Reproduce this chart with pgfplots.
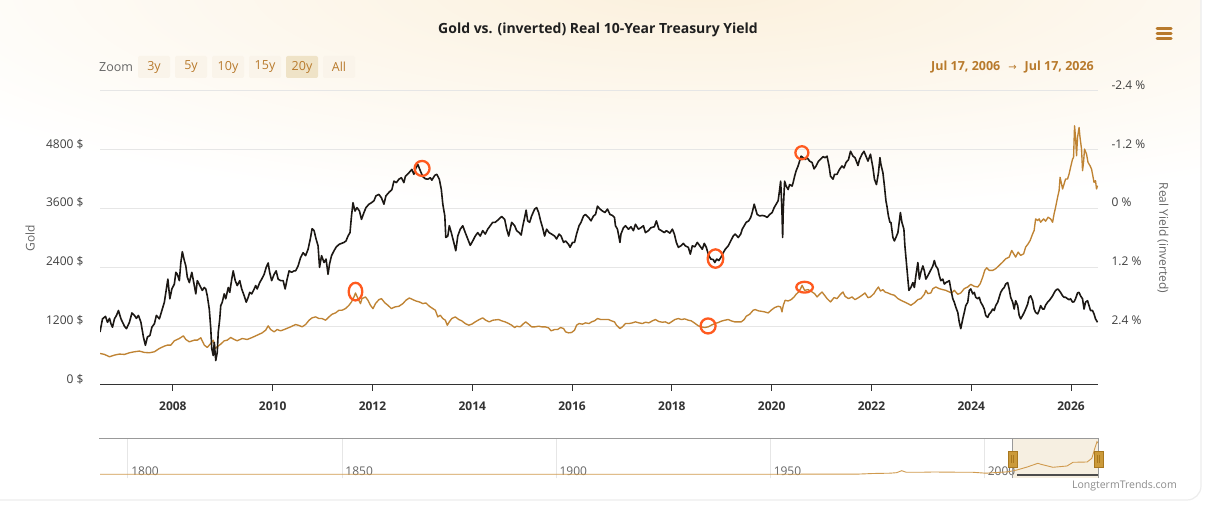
\documentclass[border=0pt]{standalone}
\usepackage{pgfplots}
\pgfplotsset{compat=1.18}
\usepackage{fontspec}
\setmainfont{Open Sans}
\newfontfamily\dejavu{DejaVu Sans}
\definecolor{goldc}{HTML}{BF8333}
\definecolor{darkc}{HTML}{1C1814}
\definecolor{btntxt}{HTML}{B87A2C}
\definecolor{btnbg}{HTML}{FAF4EA}
\definecolor{btnsel}{HTML}{EFE3C7}
\definecolor{gridc}{HTML}{E6E6E6}
\definecolor{circc}{HTML}{FF5A1F}
\definecolor{navgold}{HTML}{D09A4E}
\definecolor{selc}{HTML}{F6EFE1}
\definecolor{handlec}{HTML}{CB9A3A}
\definecolor{handleb}{HTML}{A9781F}
\definecolor{glow}{HTML}{FBF0DC}
\begin{document}
\begin{tikzpicture}[x=1pt,y=1pt]
\useasboundingbox (0,0) rectangle (1205,505);
\fill[white] (0,0) rectangle (1205,505);
\begin{scope}
\clip (0,5) rectangle (1201,505);
\shade[inner color=glow, outer color=white] (700,520) ellipse (900 and 230);
\end{scope}
\draw[black!7, line width=1.2pt, rounded corners=14pt] (-30,5) rectangle (1201,530);
% title
\node[font=\bfseries\fontsize{14}{16}\selectfont, text=black!88] at (598,475) {Gold vs. (inverted) Real 10-Year Treasury Yield};
% zoom buttons
\node[anchor=west, inner sep=0pt, text=black!60, font=\fontsize{12.5}{14}\selectfont] at (99,437.5) {Zoom};
\foreach \xa/\xb/\lab/\c in {138/170/3y/btnbg, 175/207/5y/btnbg, 212/244/10y/btnbg, 249/281/15y/btnbg, 286/318/20y/btnsel, 323/355/All/btnbg}{
  \fill[\c, rounded corners=2pt] (\xa,427) rectangle (\xb,449);
  \node[text=btntxt, font=\fontsize{12.5}{14}\selectfont] at ({(\xa+\xb)/2},438) {\lab};
}
\node[anchor=east, inner sep=0pt, text=btntxt, font=\bfseries\fontsize{12.5}{14}\selectfont] at (1094,438) {Jul 17, 2006\hspace{8pt}{\dejavu\mdseries\fontsize{10}{12}\selectfont →}\hspace{8pt}Jul 17, 2026};
\foreach \yy in {28.3,33.3,38.3}{\draw[btntxt, line width=3pt, line cap=round] (1157,505-\yy) -- (1171,505-\yy);}
% ---------------- main chart, left axis (gold)
\begin{axis}[
  at={(100pt,120pt)}, anchor=south west, scale only axis, width=998pt, height=294pt,
  xmin=2006.54, xmax=2026.54, ymin=0, ymax=6000,
  axis x line*=bottom, axis y line*=left,
  y axis line style={draw=none},
  x axis line style={draw=black!80, line width=1pt},
  xtick={2008,2010,2012,2014,2016,2018,2020,2022,2024,2026},
  xticklabels={2008,2010,2012,2014,2016,2018,2020,2022,2024,2026},
  xtick style={draw=black!80, line width=1pt},
  ytick style={draw=none},
  tick align=outside, major tick length=6pt,
  ytick={0,1200,2400,3600,4800},
  yticklabels={0 \$,1200 \$,2400 \$,3600 \$,4800 \$},
  extra y ticks={6000}, extra y tick labels={},
  extra y tick style={ymajorgrids, grid style={gridc, line width=1pt}, ytick style={draw=none}},
  ymajorgrids, grid style={gridc, line width=1pt},
  xticklabel style={font=\bfseries\fontsize{12}{14}\selectfont, text=black!80, yshift=-7pt},
  yticklabel style={font=\fontsize{12}{14}\selectfont, text=black!75, xshift=-7pt, yshift=6pt},
  ylabel={Gold}, ylabel style={at={(axis description cs:-0.07,0.5)}, anchor=center, font=\fontsize{12}{14}\selectfont, text=black!60},
]
\addplot[goldc, line width=1.35pt, line join=round] coordinates {
(2006.54,644) (2006.63,624) (2006.73,576) (2006.83,610) (2006.93,631) (2007.03,624) (2007.13,658) (2007.23,678) (2007.33,692) (2007.43,664) (2007.53,658) (2007.63,678) (2007.73,746) (2007.83,793) (2007.89,814) (2007.96,814)
(2008.03,902) (2008.13,949) (2008.21,1003) (2008.26,929) (2008.33,881) (2008.43,915) (2008.49,915) (2008.56,963) (2008.63,814) (2008.69,766) (2008.76,848) (2008.81,915) (2008.85,746) (2008.89,780) (2008.96,834)
(2009.03,902) (2009.09,915) (2009.16,970) (2009.23,929) (2009.29,902) (2009.39,949) (2009.49,929) (2009.59,970) (2009.69,1017) (2009.79,1064) (2009.86,1119) (2009.91,1207) (2009.96,1132)
(2010.03,1085) (2010.09,1132) (2010.16,1105) (2010.23,1132) (2010.33,1173) (2010.43,1220) (2010.46,1234) (2010.53,1214) (2010.59,1187) (2010.66,1234) (2010.73,1322) (2010.79,1370) (2010.86,1390) (2010.93,1356) (2010.99,1356)
(2011.06,1322) (2011.13,1390) (2011.19,1444) (2011.26,1471) (2011.33,1526) (2011.39,1526) (2011.46,1559) (2011.53,1627) (2011.58,1695) (2011.63,1797) (2011.66,1878) (2011.71,1763) (2011.76,1661) (2011.79,1763) (2011.86,1797) (2011.91,1729) (2011.96,1627)
(2012.01,1559) (2012.06,1661) (2012.13,1742) (2012.18,1763) (2012.25,1675) (2012.31,1627) (2012.38,1559) (2012.45,1593) (2012.53,1607) (2012.61,1661) (2012.67,1729) (2012.74,1776) (2012.81,1742) (2012.87,1715) (2012.94,1695)
(2013.01,1661) (2013.07,1675) (2013.14,1607) (2013.21,1559) (2013.26,1526) (2013.31,1390) (2013.36,1424) (2013.41,1356) (2013.46,1322) (2013.50,1220) (2013.54,1288) (2013.59,1356) (2013.66,1390) (2013.73,1336) (2013.79,1309) (2013.86,1254) (2013.93,1220) (2013.99,1241)
(2014.06,1288) (2014.14,1336) (2014.21,1370) (2014.27,1322) (2014.34,1288) (2014.41,1322) (2014.53,1336) (2014.59,1309) (2014.66,1288) (2014.73,1254) (2014.79,1220) (2014.85,1173) (2014.89,1200) (2014.96,1187)
(2015.03,1254) (2015.07,1288) (2015.13,1241) (2015.19,1187) (2015.26,1187) (2015.33,1200) (2015.39,1187) (2015.46,1187) (2015.53,1166) (2015.58,1105) (2015.65,1132) (2015.71,1132) (2015.77,1173) (2015.83,1153) (2015.87,1085) (2015.93,1064) (2015.99,1071)
(2016.05,1119) (2016.09,1220) (2016.14,1254) (2016.21,1241) (2016.27,1268) (2016.34,1254) (2016.39,1288) (2016.45,1309) (2016.51,1356) (2016.58,1336) (2016.66,1336) (2016.73,1336) (2016.79,1309) (2016.85,1288) (2016.89,1220) (2016.96,1153)
(2017.01,1187) (2017.07,1254) (2017.14,1254) (2017.21,1268) (2017.27,1288) (2017.34,1268) (2017.41,1254) (2017.47,1281) (2017.54,1268) (2017.61,1309) (2017.67,1336) (2017.74,1295) (2017.81,1281) (2017.87,1288) (2017.94,1254) (2017.99,1288)
(2018.06,1336) (2018.13,1356) (2018.19,1336) (2018.26,1349) (2018.33,1322) (2018.39,1309) (2018.46,1260) (2018.53,1207) (2018.59,1187) (2018.66,1173) (2018.73,1187) (2018.79,1220) (2018.86,1254) (2018.93,1275) (2018.99,1302)
(2019.06,1322) (2019.13,1336) (2019.19,1309) (2019.26,1288) (2019.33,1288) (2019.39,1288) (2019.45,1336) (2019.49,1403) (2019.56,1444) (2019.63,1526) (2019.67,1539) (2019.74,1512) (2019.79,1505) (2019.86,1492) (2019.93,1471) (2019.99,1526)
(2020.06,1580) (2020.13,1607) (2020.18,1593) (2020.207,1492) (2020.233,1627) (2020.27,1729) (2020.33,1715) (2020.39,1742) (2020.45,1797) (2020.49,1851) (2020.54,1898) (2020.58,1966) (2020.61,2034) (2020.66,1932) (2020.73,1946) (2020.79,1912) (2020.86,1865) (2020.91,1797) (2020.96,1851)
(2021.01,1898) (2021.06,1831) (2021.11,1763) (2021.18,1695) (2021.25,1783) (2021.31,1763) (2021.38,1851) (2021.43,1898) (2021.47,1810) (2021.54,1763) (2021.61,1797) (2021.67,1742) (2021.74,1783) (2021.81,1831) (2021.87,1878) (2021.93,1783) (2021.98,1797)
(2022.05,1865) (2022.09,1932) (2022.14,2000) (2022.18,1919) (2022.23,1946) (2022.27,1898) (2022.33,1878) (2022.39,1851) (2022.46,1831) (2022.53,1763) (2022.59,1729) (2022.66,1695) (2022.73,1661) (2022.79,1627) (2022.86,1675) (2022.93,1742) (2022.99,1763)
(2023.06,1851) (2023.09,1932) (2023.13,1865) (2023.19,1878) (2023.23,1966) (2023.29,2000) (2023.36,1966) (2023.43,1946) (2023.49,1932) (2023.56,1898) (2023.61,1878) (2023.66,1932) (2023.73,1851) (2023.79,1878) (2023.86,1966) (2023.93,2000) (2023.99,2054)
(2024.06,2014) (2024.13,2000) (2024.18,2068) (2024.23,2204) (2024.27,2339) (2024.31,2393) (2024.36,2339) (2024.43,2339) (2024.49,2373) (2024.56,2441) (2024.63,2509) (2024.69,2576) (2024.76,2610) (2024.81,2746) (2024.85,2678) (2024.89,2610) (2024.94,2712) (2024.99,2644)
(2025.05,2678) (2025.09,2814) (2025.14,2882) (2025.18,2949) (2025.23,3085) (2025.26,3153) (2025.29,3390) (2025.33,3356) (2025.36,3390) (2025.39,3322) (2025.45,3390) (2025.49,3343) (2025.54,3424) (2025.59,3390) (2025.63,3322) (2025.66,3492) (2025.69,3627) (2025.73,3831) (2025.76,3966) (2025.78,4238) (2025.81,4102) (2025.83,4000) (2025.86,4102) (2025.89,4204) (2025.93,4204) (2025.96,4305) (2025.99,4441)
(2026.03,4610) (2026.05,4644) (2026.07,5288) (2026.09,5051) (2026.11,4678) (2026.13,5051) (2026.16,5255) (2026.18,5051) (2026.21,4814) (2026.23,4373) (2026.25,4543) (2026.27,4814) (2026.31,4712) (2026.34,4543) (2026.38,4475) (2026.41,4407) (2026.43,4305) (2026.46,4136) (2026.49,4170) (2026.51,4000) (2026.53,4068)
};
% annotation circles on the gold line
\addplot[only marks, mark=o, mark size=6.8pt, mark options={draw=circc, line width=2.3pt, yscale=1.3}] coordinates {(2011.66,1906)};
\addplot[only marks, mark=o, mark size=7.5pt, mark options={draw=circc, line width=2.3pt}] coordinates {(2018.726,1205)};
\addplot[only marks, mark=o, mark size=8.3pt, mark options={draw=circc, line width=2.3pt, yscale=0.65}] coordinates {(2020.66,1996)};
\end{axis}
% ---------------- main chart, right axis (real yield, inverted)
\begin{axis}[
  at={(100pt,120pt)}, anchor=south west, scale only axis, width=998pt, height=294pt,
  xmin=2006.54, xmax=2026.54, ymin=-2.4, ymax=3.6, y dir=reverse,
  axis x line=none, axis y line*=right,
  y axis line style={draw=none}, ytick style={draw=none},
  ytick={-2.4,-1.2,0,1.2,2.4},
  yticklabels={-2.4 \%,-1.2 \%,0 \%,1.2 \%,2.4 \%},
  yticklabel style={font=\fontsize{12}{14}\selectfont, text=black!75, xshift=10pt, yshift=6pt},
  ylabel={Real Yield (inverted)}, ylabel style={at={(axis description cs:1.065,0.5)}, anchor=center, rotate=180, font=\fontsize{12}{14}\selectfont, text=black!60},
]
\addplot[darkc, line width=1.6pt, line join=round] coordinates {
(2006.54,2.52) (2006.59,2.25) (2006.65,2.20) (2006.69,2.32) (2006.73,2.24) (2006.76,2.35) (2006.79,2.42) (2006.83,2.25) (2006.87,2.18) (2006.91,2.08) (2006.96,2.25)
(2007.03,2.40) (2007.07,2.45) (2007.13,2.32) (2007.18,2.13) (2007.23,2.18) (2007.27,2.24) (2007.31,2.18) (2007.36,2.32) (2007.41,2.62) (2007.45,2.79) (2007.49,2.62) (2007.54,2.59) (2007.58,2.42) (2007.63,2.35) (2007.67,2.18) (2007.73,2.25) (2007.78,2.08) (2007.83,1.91) (2007.87,1.64) (2007.90,1.44) (2007.94,1.84) (2007.98,1.64)
(2008.03,1.54) (2008.06,1.30) (2008.09,1.34) (2008.13,1.47) (2008.16,1.10) (2008.19,0.88) (2008.23,1.06) (2008.26,1.17) (2008.29,1.40) (2008.33,1.51) (2008.38,1.30) (2008.43,1.57) (2008.46,1.74) (2008.49,1.47) (2008.54,1.57) (2008.59,1.67) (2008.63,1.61) (2008.66,1.64) (2008.69,1.78) (2008.73,2.05) (2008.76,2.45) (2008.78,2.86) (2008.81,3.00) (2008.83,2.73) (2008.86,3.10) (2008.89,2.93) (2008.91,2.52) (2008.94,2.25) (2008.96,1.98) (2008.99,1.91)
(2009.03,1.74) (2009.06,1.84) (2009.11,1.61) (2009.14,1.71) (2009.18,1.44) (2009.21,1.27) (2009.25,1.47) (2009.29,1.57) (2009.34,1.47) (2009.38,1.64) (2009.43,1.78) (2009.47,1.91) (2009.51,1.81) (2009.54,1.71) (2009.58,1.74) (2009.63,1.64) (2009.66,1.57) (2009.69,1.64) (2009.74,1.51) (2009.78,1.44) (2009.83,1.34) (2009.87,1.20) (2009.91,1.11) (2009.94,1.30) (2009.98,1.47)
(2010.03,1.34) (2010.07,1.27) (2010.11,1.44) (2010.16,1.47) (2010.21,1.47) (2010.25,1.64) (2010.29,1.44) (2010.33,1.27) (2010.38,1.30) (2010.43,1.27) (2010.46,1.27) (2010.51,1.17) (2010.56,1.00) (2010.61,0.90) (2010.66,0.96) (2010.71,0.83) (2010.76,0.59) (2010.79,0.41) (2010.83,0.45) (2010.87,0.62) (2010.91,0.76) (2010.94,1.20) (2010.98,0.96)
(2011.03,1.10) (2011.07,1.03) (2011.11,1.34) (2011.14,1.13) (2011.18,0.96) (2011.23,0.86) (2011.27,0.79) (2011.33,0.73) (2011.38,0.71) (2011.43,0.69) (2011.47,0.66) (2011.51,0.56) (2011.55,0.49) (2011.58,0.15) (2011.61,-0.12) (2011.65,0.05) (2011.69,-0.02) (2011.74,0.05) (2011.78,0.22) (2011.83,0.08) (2011.87,-0.02) (2011.93,-0.09) (2011.98,-0.12)
(2012.03,-0.16) (2012.07,-0.26) (2012.13,-0.29) (2012.18,-0.22) (2012.23,-0.09) (2012.27,-0.26) (2012.33,-0.33) (2012.39,-0.39) (2012.43,-0.56) (2012.48,-0.53) (2012.53,-0.60) (2012.58,-0.63) (2012.63,-0.53) (2012.66,-0.66) (2012.73,-0.73) (2012.79,-0.80) (2012.83,-0.70) (2012.87,-0.83) (2012.91,-0.90) (2012.96,-0.77)
(2013.01,-0.65) (2013.06,-0.61) (2013.11,-0.60) (2013.16,-0.63) (2013.19,-0.58) (2013.25,-0.68) (2013.29,-0.70) (2013.34,-0.60) (2013.38,-0.39) (2013.41,-0.09) (2013.45,0.15) (2013.47,0.59) (2013.51,0.56) (2013.54,0.35) (2013.58,0.49) (2013.63,0.69) (2013.67,0.86) (2013.71,0.56) (2013.76,0.42) (2013.81,0.35) (2013.86,0.49) (2013.91,0.62) (2013.96,0.75)
(2014.01,0.66) (2014.06,0.56) (2014.11,0.49) (2014.16,0.56) (2014.21,0.45) (2014.26,0.52) (2014.31,0.42) (2014.36,0.35) (2014.41,0.28) (2014.46,0.28) (2014.53,0.22) (2014.59,0.16) (2014.65,0.22) (2014.69,0.42) (2014.73,0.56) (2014.76,0.42) (2014.79,0.28) (2014.85,0.35) (2014.89,0.45) (2014.94,0.49) (2014.98,0.54)
(2015.01,0.37) (2015.05,0.18) (2015.08,0.03) (2015.11,0.25) (2015.15,0.28) (2015.19,0.15) (2015.25,0.01) (2015.29,-0.02) (2015.33,0.08) (2015.37,0.25) (2015.41,0.39) (2015.45,0.56) (2015.49,0.42) (2015.54,0.49) (2015.59,0.52) (2015.65,0.56) (2015.69,0.62) (2015.74,0.52) (2015.78,0.56) (2015.83,0.69) (2015.87,0.66) (2015.93,0.73) (2015.96,0.79)
(2016.01,0.69) (2016.05,0.69) (2016.09,0.52) (2016.14,0.35) (2016.18,0.28) (2016.23,0.15) (2016.27,0.12) (2016.33,0.18) (2016.38,0.25) (2016.43,0.15) (2016.47,0.12) (2016.51,-0.05) (2016.56,0.01) (2016.61,0.05) (2016.66,0.08) (2016.71,0.01) (2016.76,0.12) (2016.81,0.14) (2016.85,0.18) (2016.87,0.35) (2016.91,0.42) (2016.96,0.69) (2016.98,0.52)
(2017.03,0.39) (2017.07,0.35) (2017.13,0.42) (2017.18,0.37) (2017.23,0.45) (2017.27,0.32) (2017.33,0.42) (2017.38,0.39) (2017.43,0.35) (2017.47,0.49) (2017.53,0.45) (2017.58,0.39) (2017.65,0.37) (2017.69,0.25) (2017.74,0.42) (2017.79,0.45) (2017.85,0.49) (2017.89,0.45) (2017.96,0.50)
(2018.01,0.42) (2018.05,0.52) (2018.09,0.69) (2018.13,0.79) (2018.18,0.76) (2018.23,0.71) (2018.27,0.76) (2018.33,0.79) (2018.37,0.93) (2018.41,0.76) (2018.46,0.78) (2018.51,0.69) (2018.56,0.76) (2018.61,0.83) (2018.65,0.71) (2018.69,0.79) (2018.73,0.93) (2018.78,1.03) (2018.83,1.04) (2018.86,1.10) (2018.90,1.03) (2018.94,1.06) (2018.98,1.00)
(2019.03,0.90) (2019.07,0.83) (2019.13,0.76) (2019.18,0.66) (2019.23,0.56) (2019.27,0.52) (2019.33,0.59) (2019.38,0.52) (2019.41,0.42) (2019.45,0.35) (2019.49,0.28) (2019.54,0.25) (2019.58,0.18) (2019.61,0.08) (2019.65,-0.09) (2019.67,-0.02) (2019.71,0.12) (2019.76,0.15) (2019.81,0.14) (2019.86,0.15) (2019.91,0.18) (2019.96,0.12)
(2020.01,0.08) (2020.05,-0.02) (2020.09,-0.09) (2020.13,-0.16) (2020.16,-0.39) (2020.18,-0.56) (2020.19,-0.36) (2020.207,0.08) (2020.22,0.59) (2020.233,0.01) (2020.26,-0.56) (2020.29,-0.46) (2020.33,-0.39) (2020.36,-0.49) (2020.41,-0.46) (2020.43,-0.53) (2020.46,-0.66) (2020.49,-0.77) (2020.53,-0.87) (2020.56,-0.97) (2020.59,-1.07) (2020.63,-1.04) (2020.67,-1.00) (2020.71,-1.04) (2020.76,-0.97) (2020.81,-0.94) (2020.85,-0.81) (2020.89,-0.87) (2020.94,-0.97) (2020.99,-1.02)
(2021.03,-1.06) (2021.07,-1.04) (2021.11,-1.07) (2021.15,-0.87) (2021.18,-0.66) (2021.23,-0.60) (2021.26,-0.70) (2021.31,-0.70) (2021.36,-0.80) (2021.41,-0.87) (2021.45,-0.83) (2021.49,-0.94) (2021.54,-1.00) (2021.58,-1.17) (2021.63,-1.07) (2021.67,-1.04) (2021.73,-0.88) (2021.76,-1.00) (2021.81,-1.11) (2021.85,-1.17) (2021.89,-1.07) (2021.93,-0.97) (2021.98,-1.11)
(2022.03,-0.83) (2022.06,-0.60) (2022.10,-0.49) (2022.14,-0.73) (2022.17,-1.04) (2022.19,-0.90) (2022.23,-0.73) (2022.26,-0.46) (2022.29,-0.16) (2022.31,-0.05) (2022.34,0.15) (2022.37,0.28) (2022.39,0.28) (2022.43,0.59) (2022.46,0.66) (2022.49,0.59) (2022.53,0.49) (2022.56,0.25) (2022.58,0.08) (2022.61,0.28) (2022.65,0.42) (2022.67,0.76) (2022.70,1.10) (2022.73,1.44) (2022.75,1.67) (2022.79,1.61) (2022.83,1.51) (2022.86,1.61) (2022.89,1.37) (2022.93,1.10) (2022.96,1.44) (2022.99,1.30)
(2023.03,1.17) (2023.06,1.27) (2023.09,1.44) (2023.13,1.37) (2023.18,1.27) (2023.23,1.17) (2023.26,1.06) (2023.29,1.17) (2023.33,1.23) (2023.36,1.37) (2023.39,1.47) (2023.43,1.44) (2023.46,1.54) (2023.49,1.51) (2023.53,1.49) (2023.56,1.47) (2023.59,1.64) (2023.63,1.84) (2023.66,1.91) (2023.69,2.01) (2023.73,2.12) (2023.76,2.32) (2023.79,2.45) (2023.83,2.25) (2023.86,2.12) (2023.89,1.98) (2023.93,1.91) (2023.96,1.67) (2023.99,1.64)
(2024.03,1.74) (2024.06,1.71) (2024.09,1.81) (2024.13,1.84) (2024.16,1.81) (2024.19,1.91) (2024.23,1.98) (2024.26,2.05) (2024.29,2.18) (2024.33,2.22) (2024.36,2.15) (2024.39,2.12) (2024.43,2.05) (2024.46,2.08) (2024.49,1.98) (2024.53,1.91) (2024.56,1.81) (2024.59,1.71) (2024.63,1.64) (2024.66,1.61) (2024.69,1.54) (2024.73,1.51) (2024.76,1.64) (2024.79,1.81) (2024.83,1.91) (2024.86,2.05) (2024.89,1.88) (2024.93,1.98) (2024.96,2.18) (2024.99,2.25)
(2025.03,2.18) (2025.06,2.12) (2025.09,2.05) (2025.13,1.95) (2025.16,1.81) (2025.19,1.78) (2025.23,1.88) (2025.26,2.05) (2025.29,2.12) (2025.33,2.15) (2025.36,2.08) (2025.39,1.98) (2025.43,2.05) (2025.46,2.05) (2025.49,1.97) (2025.53,1.91) (2025.56,1.88) (2025.59,1.84) (2025.63,1.78) (2025.66,1.72) (2025.69,1.67) (2025.73,1.64) (2025.76,1.67) (2025.79,1.71) (2025.83,1.78) (2025.86,1.81) (2025.89,1.81) (2025.93,1.84) (2025.96,1.86) (2025.99,1.84)
(2026.03,1.91) (2026.06,1.90) (2026.09,1.84) (2026.13,1.72) (2026.16,1.71) (2026.19,1.78) (2026.23,1.84) (2026.26,2.05) (2026.29,1.91) (2026.33,1.88) (2026.36,1.98) (2026.39,2.08) (2026.43,2.08) (2026.46,2.15) (2026.49,2.25) (2026.53,2.32)
};
% annotation circles on the yield line
\addplot[only marks, mark=o, mark size=7.5pt, mark options={draw=circc, line width=2.3pt}] coordinates {(2012.994,-0.82)};
\addplot[only marks, mark=o, mark size=7.8pt, mark options={draw=circc, line width=2.3pt, yscale=1.18}] coordinates {(2018.874,1.02)};
\addplot[only marks, mark=o, mark size=6.5pt, mark options={draw=circc, line width=2.3pt}] coordinates {(2020.606,-1.14)};
\end{axis}
% ---------------- navigator
\fill[selc] (1012.3,26.7) rectangle (1098.3,66.7);
\begin{axis}[
  at={(100pt,26.7pt)}, anchor=south west, scale only axis, width=998pt, height=40pt,
  xmin=1793.5, xmax=2026.54, ymin=-628, ymax=5852,
  axis line style={draw=none}, tick style={draw=none}, major tick length=0pt,
  ytick=\empty,
  xtick={1800,1850,1900,1950,2000}, xticklabels={1800,1850,1900,1950,2000},
  xmajorgrids, grid style={gridc, line width=0.8pt},
  xticklabel style={anchor=west, yshift=7.3pt, font=\fontsize{12}{14}\selectfont, text=black!60},
]
\addplot[navgold, line width=0.9pt] coordinates {
(1793.5,20) (1933.9,20) (1934.1,35) (1970.0,36) (1974.0,150) (1978.0,200) (1979.5,279) (1980.7,603) (1981.8,344) (1985.0,344) (1988.1,393) (1993.0,360) (1997.4,344) (2000.3,200) (2005.5,420) (2007.6,717) (2010.0,1200) (2012.5,1802) (2013.2,1640) (2016.0,1154) (2019.3,1365) (2020.7,1964) (2024.0,2013) (2025.1,2612) (2025.8,4232) (2026.3,5301) (2026.54,5090)
};
\addplot[black!70, line width=1.3pt] coordinates {(2007.6,-95) (2026.54,-95)};
\end{axis}
\draw[black!40, line width=0.8pt] (99,66.7) -- (1098.3,66.7);
\draw[black!40, line width=0.8pt] (1012.3,26.7) -- (1012.3,66.7);
\draw[black!40, line width=0.8pt] (1098.3,26.7) -- (1098.3,66.7);
\foreach \hx in {1012.5,1098.5}{
  \filldraw[fill=handlec, draw=handleb, line width=0.8pt] (\hx-4.5,38) rectangle (\hx+4.5,54);
  \draw[handleb, line width=0.6pt] (\hx-1.2,42) -- (\hx-1.2,50);
  \draw[handleb, line width=0.6pt] (\hx+1.2,42) -- (\hx+1.2,50);
}
\node[anchor=east, inner sep=0pt, text=black!45, font=\fontsize{10.5}{12}\selectfont] at (1177,19.3) {LongtermTrends.com};
\end{tikzpicture}
\end{document}
